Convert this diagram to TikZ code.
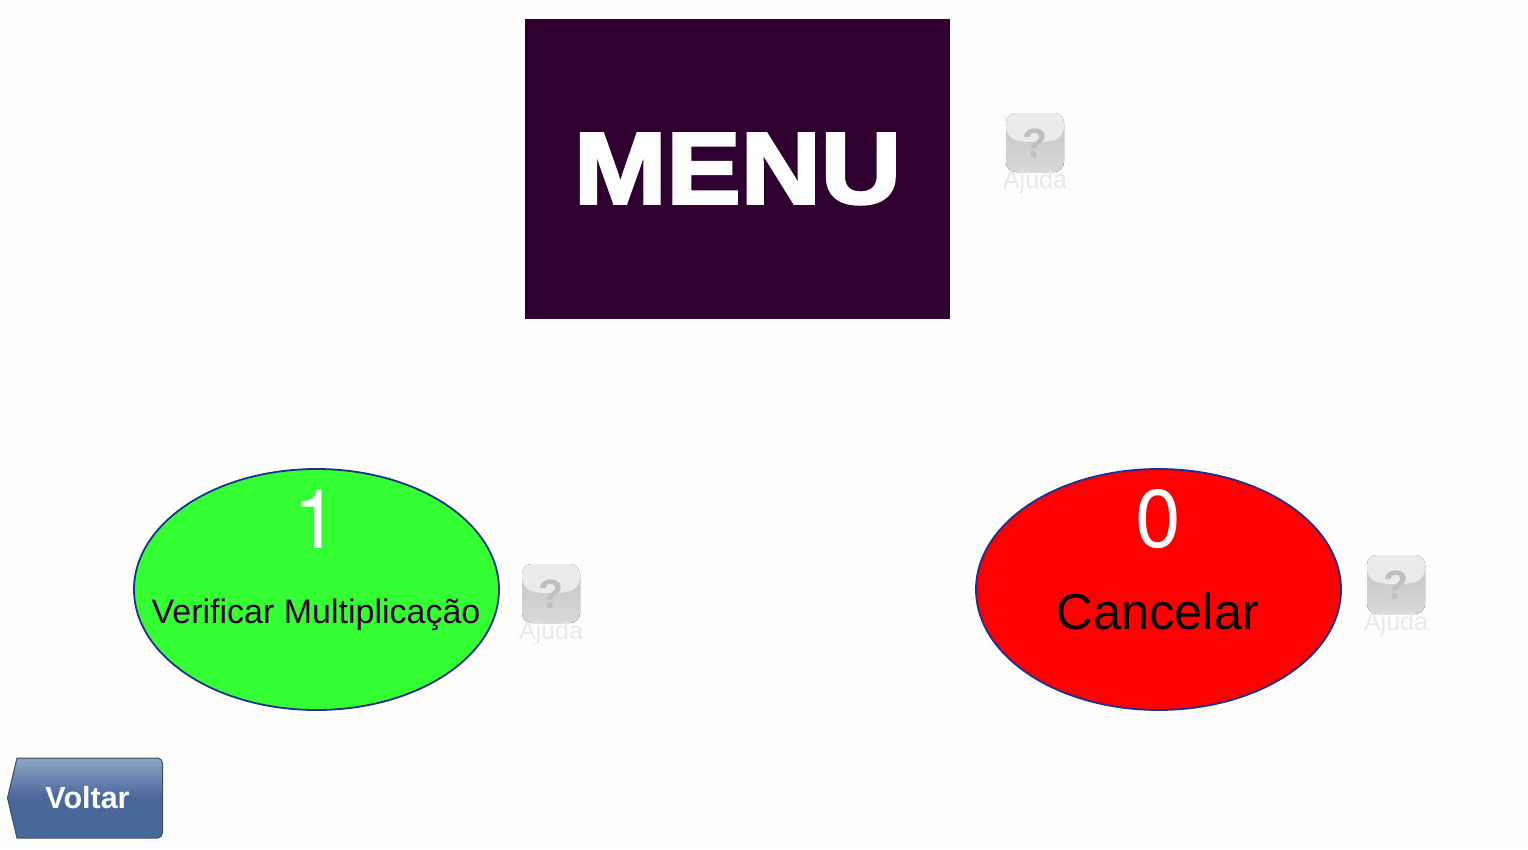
\documentclass[tikz,border=0pt]{standalone}
\usepackage{fontspec}
\setmainfont{Liberation Sans}
\newfontfamily\digitfont{TeX Gyre Heros}
\newfontfamily\menufont[FakeBold=3,FakeStretch=1.1]{Liberation Sans Bold}
\usetikzlibrary{shapes.geometric}
\definecolor{menuback}{HTML}{2F002F}
\definecolor{okgreen}{HTML}{33FF33}
\definecolor{ovalline}{HTML}{1F2F8F}
\definecolor{voltartop}{HTML}{8EA5C4}
\definecolor{voltarbot}{HTML}{48689A}
\definecolor{voltarline}{HTML}{3C4C64}
\tikzset{
  option/.style={ellipse,draw=ovalline,line width=1.8pt,minimum width=365pt,minimum height=241pt,inner sep=0pt},
  bigdigit/.style={text=white,font=\digitfont\fontsize{82}{82}\selectfont},
  helplabel/.style={text=black!9,font=\fontsize{25}{25}\selectfont},
  helpmark/.style={text=black!25,font=\bfseries\fontsize{41}{41}\selectfont},
}
% help button, centre of the key at (#1,#2)
\newcommand{\helpkey}[3]{
  \fill[rounded corners=10pt,bottom color=black!15,top color=black!24] (#1-29,#2-30) rectangle (#1+29,#2+29);
  \fill[rounded corners=10pt,black!8] (#1-29,#2-30) -- (#1+29,#2-30) -- (#1+29,#2-6) .. controls (#1+10,#2) and (#1-10,#2) .. (#1-29,#2-6) -- cycle;
  \node[helpmark] (mark#3) at (#1,#2) {?};
  \node[helplabel] (label#3) at (#1,#2+39) {Ajuda};
}
\begin{document}
\begin{tikzpicture}[x=1pt,y=-1pt]
  \useasboundingbox (0,0) rectangle (1528,849);
  \fill[white] (0,0) rectangle (1528,849);
  % dotted page
  \foreach \row in {0,...,105}
    \draw[black!8,line width=2pt,dash pattern=on 1pt off 7pt] (5,\row*8+5) -- (1528,\row*8+5);

  \node[fill=menuback,minimum width=425pt,minimum height=300pt,inner sep=0pt,text=white,font=\menufont\fontsize{101}{101}\selectfont] (menu) at (737.5,169) {\raisebox{-4pt}{MENU}};
  \helpkey{1035}{143}{a}

  \node[option,fill=okgreen] (verificar) at (316.5,589.5) {};
  \node[bigdigit] (one) at (316,519) {1};
  \node[text=menuback,font=\fontsize{34}{34}\selectfont] (verificartext) at (316,614.5) {Verificar Multiplicação};
  \helpkey{551}{594}{b}

  \node[option,fill=red] (cancelar) at (1158.5,589.5) {};
  \node[bigdigit] (zero) at (1158,519) {0};
  \node[font=\fontsize{50.5}{50}\selectfont] (cancelartext) at (1158,611.5) {Cancelar};
  \helpkey{1396}{585}{c}

  % back button
  \draw[voltarline,line width=1pt,top color=voltartop,bottom color=voltarbot,middle color=voltarbot]
    (17,758) -- (157,758) [rounded corners=5pt] -- (162.5,758) -- (162.5,838) [sharp corners] -- (17,838) -- (7.5,798) -- cycle;
  \node[text=white,font=\bfseries\fontsize{30.5}{31}\selectfont] (voltar) at (87.5,798) {Voltar};
\end{tikzpicture}
\end{document}
